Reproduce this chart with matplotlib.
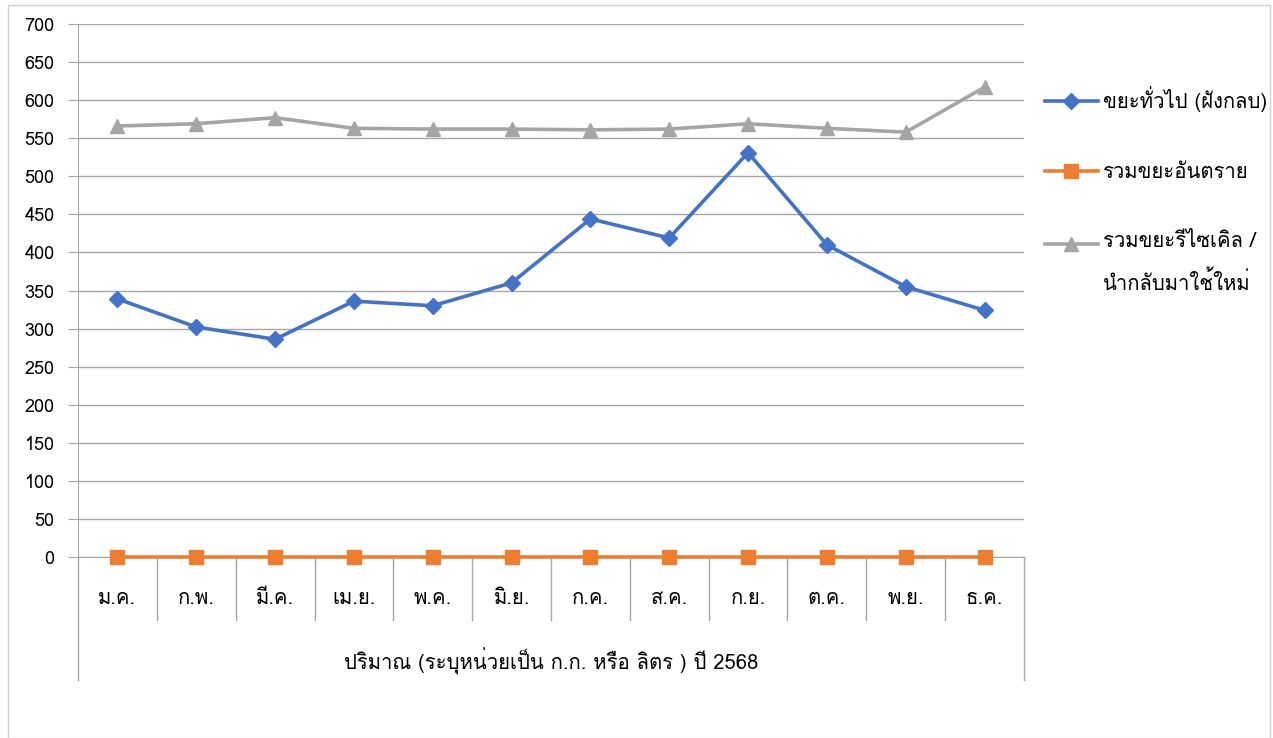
import matplotlib
matplotlib.use("Agg")
import matplotlib.pyplot as plt
from matplotlib import font_manager, ft2font
from matplotlib.patches import Rectangle

months = ["ม.ค.", "ก.พ.", "มี.ค.", "เม.ย.", "พ.ค.", "มิ.ย.",
          "ก.ค.", "ส.ค.", "ก.ย.", "ต.ค.", "พ.ย.", "ธ.ค."]
general = [339, 302, 286, 336, 330, 360, 444, 419, 531, 410, 355, 324]
hazardous = [0, 0, 0, 0, 0, 0, 0, 0, 0, 0, 0, 0]
recycle = [566, 569, 577, 563, 562, 562, 561, 562, 569, 563, 558, 617]
labels = ["ขยะทั่วไป (ฝังกลบ)", "รวมขยะอันตราย", "รวมขยะรีไซเคิล /\nนำกลับมาใช้ใหม่"]
xtitle = "ปริมาณ (ระบุหน่วยเป็น ก.ก. หรือ ลิตร ) ปี 2568"


def thai_font():
    # pick any installed family that has Thai glyphs
    for f in font_manager.fontManager.ttflist:
        try:
            if 0x0E01 in ft2font.FT2Font(f.fname).get_charmap():
                return f.name
        except Exception:
            pass
    return "DejaVu Sans"


plt.rcParams['font.family'] = [thai_font(), 'DejaVu Sans']
fs = 13
fs_th = 14.6
grid_c = '#a6a6a6'

fig = plt.figure(figsize=(12.73, 7.38), dpi=100)
fig.patches.append(Rectangle((8 / 1273, 0), 1262 / 1273, 733 / 738, transform=fig.transFigure,
                             fill=False, edgecolor='#d0d0d0', linewidth=1))
ax = fig.add_axes([78 / 1273, 1 - 557 / 738, 946 / 1273, 533 / 738])

x = list(range(len(months)))
ax.plot(x, general, color='#4472C4', linewidth=2.6, marker='D', markersize=8.5, label=labels[0], zorder=3)
ax.plot(x, hazardous, color='#ED7D31', linewidth=2.6, marker='s', markersize=9.5, label=labels[1],
        zorder=3, clip_on=False)
ax.plot(x, recycle, color='#A5A5A5', linewidth=2.6, marker='^', markersize=10.5, label=labels[2], zorder=3)

ax.set_xlim(-0.5, len(months) - 0.5)
ax.set_ylim(0, 700)
ax.set_yticks(range(0, 701, 50))
ax.tick_params(axis='y', length=7, color=grid_c, labelsize=fs, pad=10)
ax.grid(axis='y', color=grid_c, linewidth=1)
ax.set_axisbelow(True)
for s in ['top', 'right']:
    ax.spines[s].set_visible(False)
ax.spines['left'].set_color(grid_c)
ax.spines['bottom'].set_color(grid_c)

# category axis with separators
ax.set_xticks([])
trans = ax.get_xaxis_transform()
for k in range(len(months) + 1):
    depth = -123 / 533 if k in (0, len(months)) else -63 / 533
    ax.plot([k - 0.5, k - 0.5], [0, depth], transform=trans, color=grid_c, linewidth=1, clip_on=False)
for i, m in enumerate(months):
    ax.text(i, -41 / 533, m, transform=trans, ha='center', va='center', fontsize=fs_th)
ax.text((len(months) - 1) / 2, -104 / 533, xtitle, transform=trans, ha='center', va='center', fontsize=fs_th)

leg = fig.legend(loc='upper left', bbox_to_anchor=(1045 / 1273, 1 - 86 / 738), frameon=False,
                 fontsize=fs_th, handlelength=2.6, labelspacing=2.5, handletextpad=0.25,
                 borderpad=0, borderaxespad=0)
for t in leg.get_texts():
    t.set_linespacing(2.0)

# move the handle of the two-line entry up to its first line
entry = leg._legend_handle_box.get_children()[0].get_children()[2]
for a in entry.get_children()[0].get_children():
    a.set_ydata([y + 14.4 for y in a.get_ydata()])

fig.savefig('out.png', dpi=100)
